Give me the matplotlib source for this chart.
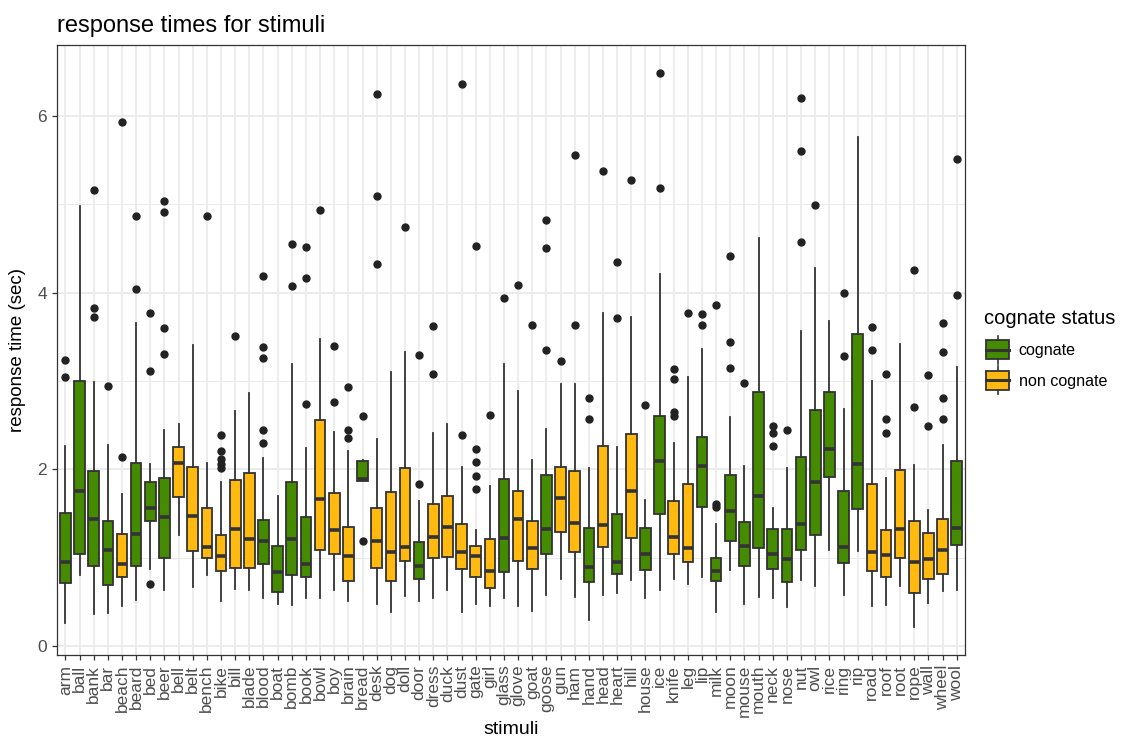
import numpy as np
import matplotlib
matplotlib.use("Agg")
import matplotlib.pyplot as plt
from matplotlib.legend_handler import HandlerBase
from matplotlib.patches import Rectangle
from matplotlib.lines import Line2D

plt.rcParams['font.family'] = ['Liberation Sans', 'DejaVu Sans']

# ---- data ----
stimuli = ["arm", "ball", "bank", "bar", "beach", "beard", "bed", "beer", "bell", "belt",
           "bench", "bike", "bill", "blade", "blood", "boat", "bomb", "book", "bowl", "boy",
           "brain", "bread", "desk", "dog", "doll", "door", "dress", "duck", "dust", "gate",
           "girl", "glass", "glove", "goat", "goose", "gun", "ham", "hand", "head", "heart",
           "hill", "house", "ice", "knife", "leg", "lip", "milk", "moon", "mouse", "mouth",
           "neck", "nose", "nut", "owl", "rice", "ring", "rip", "road", "roof", "root",
           "rope", "wall", "wheel", "wool"]

# C = cognate, N = non cognate
status = list("CCCCNCCCNN"
              "NNNNCCCCNN"
              "NCNNNCNNNN"
              "NCNNCNNCNC"
              "NCCNNCCCCC"
              "CCCCCCCNNN"
              "NNNC")

q1 = [0.71, 1.04, 0.91, 0.69, 0.78, 0.91, 1.41, 1.00, 1.69, 1.08,
      1.00, 0.85, 0.88, 0.88, 0.93, 0.61, 0.80, 0.78, 1.09, 1.04,
      0.74, 1.87, 0.88, 0.74, 0.96, 0.76, 1.00, 1.01, 0.87, 0.78,
      0.66, 0.84, 0.96, 0.87, 1.04, 1.29, 1.06, 0.73, 1.12, 0.82,
      1.22, 0.86, 1.49, 1.04, 0.95, 1.57, 0.74, 1.19, 0.91, 1.11,
      0.87, 0.73, 1.09, 1.26, 1.91, 0.94, 1.55, 0.85, 0.78, 1.00,
      0.60, 0.76, 0.82, 1.14]

med = [0.95, 1.76, 1.44, 1.09, 0.93, 1.27, 1.56, 1.46, 2.07, 1.47,
       1.12, 1.02, 1.33, 1.21, 1.19, 0.84, 1.21, 0.93, 1.66, 1.31,
       1.02, 1.89, 1.19, 1.07, 1.12, 0.91, 1.24, 1.35, 1.06, 1.02,
       0.85, 1.22, 1.44, 1.11, 1.33, 1.67, 1.39, 0.90, 1.37, 0.95,
       1.75, 1.04, 2.09, 1.23, 1.11, 2.04, 0.85, 1.53, 1.13, 1.70,
       1.04, 0.99, 1.38, 1.86, 2.23, 1.12, 2.06, 1.06, 1.03, 1.33,
       0.95, 0.98, 1.09, 1.34]

q3 = [1.51, 3.00, 1.98, 1.42, 1.27, 2.07, 1.86, 1.90, 2.25, 2.03,
      1.56, 1.26, 1.88, 1.96, 1.43, 1.13, 1.86, 1.46, 2.56, 1.73,
      1.35, 2.09, 1.56, 1.74, 2.01, 1.18, 1.61, 1.70, 1.38, 1.13,
      1.21, 1.89, 1.76, 1.41, 1.94, 2.03, 1.98, 1.34, 2.26, 1.49,
      2.40, 1.34, 2.60, 1.64, 1.83, 2.36, 1.00, 1.94, 1.40, 2.87,
      1.32, 1.33, 2.14, 2.67, 2.88, 1.75, 3.53, 1.83, 1.31, 1.99,
      1.42, 1.28, 1.44, 2.09]

wlo = [0.26, 0.81, 0.36, 0.37, 0.45, 0.52, 0.87, 0.63, 1.26, 0.67,
       0.81, 0.51, 0.65, 0.63, 0.54, 0.48, 0.47, 0.55, 0.54, 0.63,
       0.51, 1.87, 0.48, 0.39, 0.57, 0.51, 0.55, 0.63, 0.39, 0.48,
       0.45, 0.55, 0.45, 0.40, 0.58, 0.76, 0.56, 0.30, 0.58, 0.60,
       0.75, 0.54, 0.63, 0.76, 0.70, 0.78, 0.39, 0.86, 0.48, 0.56,
       0.55, 0.44, 0.75, 0.68, 1.09, 0.58, 1.08, 0.45, 0.46, 0.68,
       0.22, 0.49, 0.62, 0.64]

whi = [2.26, 4.98, 2.99, 2.28, 1.72, 3.65, 2.06, 2.44, 2.51, 3.41,
       2.07, 1.86, 2.66, 2.86, 2.13, 1.70, 3.19, 2.24, 3.47, 2.42,
       2.21, 2.10, 2.34, 3.10, 3.33, 1.64, 2.41, 2.51, 2.03, 1.31,
       1.81, 3.19, 2.89, 2.11, 2.46, 2.97, 2.96, 2.01, 3.77, 2.25,
       3.72, 1.65, 4.21, 2.30, 3.04, 3.36, 1.38, 2.59, 2.04, 4.62,
       1.56, 2.02, 3.56, 4.28, 3.68, 2.68, 5.76, 3.00, 1.90, 3.42,
       2.05, 1.54, 2.28, 3.16]

outliers = [[3.24, 3.04], [], [5.16, 3.82, 3.72], [2.94], [5.93, 2.14],
            [4.86, 4.04], [3.77, 3.11, 0.70], [5.04, 4.91, 3.60, 3.30], [], [],
            [4.87], [2.39, 2.21, 2.12, 2.06, 2.02], [3.51], [], [4.19, 3.38, 3.26, 2.44, 2.30],
            [], [4.55, 4.07], [4.52, 4.16, 2.74], [4.93], [3.39, 2.76],
            [2.93, 2.44, 2.35], [2.60, 1.19], [6.25, 5.09, 4.32], [], [4.74],
            [3.29, 1.83], [3.62, 3.08], [], [6.36, 2.39], [4.53, 2.23, 2.08, 1.92, 1.78],
            [2.62], [3.94], [4.09], [3.63], [4.82, 4.50, 3.35],
            [3.22], [5.56, 3.63], [2.81, 2.57], [5.38], [4.35, 3.71],
            [5.27], [2.73], [6.48, 5.18], [3.14, 3.02, 2.65, 2.60], [3.77],
            [3.76, 3.63], [3.86, 1.61, 1.57], [4.41, 3.44, 3.15], [2.98], [],
            [2.49, 2.41, 2.26], [2.44], [6.20, 5.60, 4.57], [4.99], [],
            [3.99, 3.28], [], [3.61, 3.35], [3.08, 2.57, 2.41], [],
            [4.25, 2.70], [3.07, 2.49], [3.66, 3.33, 2.81, 2.57], [5.51, 3.97]]

fill_colors = {"C": "#458B00", "N": "#FFB90F"}
legend_labels = {"C": "cognate", "N": "non cognate"}
line_col = "#333333"


class BoxKeyHandler(HandlerBase):
    # small boxplot glyph for the legend keys, like ggplot draws them
    def create_artists(self, legend, orig_handle, xdescent, ydescent,
                       width, height, fontsize, trans):
        fc = orig_handle.get_facecolor()
        cx = width / 2 - xdescent
        h = height * 1.15
        y0 = -ydescent + (height - h) / 2
        bw = width * 0.85
        arts = [
            Line2D([cx, cx], [y0 - h * 0.25, y0 + h * 1.25], color=line_col, lw=1.2, transform=trans),
            Rectangle((cx - bw / 2, y0), bw, h, facecolor=fc, edgecolor=line_col, lw=1.3, transform=trans),
            Line2D([cx - bw / 2, cx + bw / 2], [y0 + h / 2, y0 + h / 2], color=line_col, lw=2.2, transform=trans),
        ]
        return arts


def main():
    fig = plt.figure(figsize=(11.21, 7.47), dpi=100)
    ax = fig.add_axes([0.0508, 0.1232, 0.8102, 0.8166])

    pos = np.arange(1, len(stimuli) + 1)
    stats = []
    for i, name in enumerate(stimuli):
        stats.append({"label": name, "med": med[i], "q1": q1[i], "q3": q3[i],
                      "whislo": wlo[i], "whishi": whi[i], "fliers": outliers[i]})

    bp = ax.bxp(stats, positions=pos, widths=0.75, patch_artist=True, showcaps=False,
                boxprops=dict(edgecolor=line_col, linewidth=1.3),
                medianprops=dict(color=line_col, linewidth=2.6, solid_capstyle="butt"),
                whiskerprops=dict(color=line_col, linewidth=1.3),
                flierprops=dict(marker="o", markerfacecolor="#222222", markeredgecolor="#222222",
                                markersize=5),
                zorder=3)
    for patch, s in zip(bp["boxes"], status):
        patch.set_facecolor(fill_colors[s])

    ax.set_xlim(0.4, len(stimuli) + 0.6)
    ax.set_ylim(-0.10, 6.80)
    ax.set_xticks(pos)
    ax.set_xticklabels(stimuli, rotation=90, fontsize=12.5, color="#4D4D4D")
    ax.set_yticks([0, 2, 4, 6])
    ax.set_yticks([1, 3, 5], minor=True)
    ax.tick_params(axis="y", labelsize=12.5, labelcolor="#4D4D4D")
    ax.tick_params(which="major", length=3.5, width=0.9, color=line_col)
    ax.tick_params(which="minor", length=0)

    ax.grid(True, which="major", color="#EBEBEB", linewidth=1.3, zorder=0)
    ax.grid(True, which="minor", axis="y", color="#EBEBEB", linewidth=0.7, zorder=0)
    ax.set_axisbelow(True)
    for sp in ax.spines.values():
        sp.set_color(line_col)
        sp.set_linewidth(0.9)

    ax.set_xlabel("stimuli", fontsize=14, labelpad=3)
    ax.set_ylabel("response time (sec)", fontsize=13.5, labelpad=8)
    ax.set_title("response times for stimuli", fontsize=17, loc="left", pad=9)

    handles = [Rectangle((0, 0), 1, 1, facecolor=fill_colors[k]) for k in ["C", "N"]]
    fig.legend(handles, [legend_labels[k] for k in ["C", "N"]], title="cognate status",
               loc="upper left", bbox_to_anchor=(0.865, 0.606), frameon=False,
               fontsize=11.6, title_fontsize=14.5, handler_map={Rectangle: BoxKeyHandler()},
               handlelength=1.7, handleheight=1.2, labelspacing=0.85, handletextpad=0.45,
               alignment="left")

    fig.savefig("out.png", dpi=100)


if __name__ == "__main__":
    main()
